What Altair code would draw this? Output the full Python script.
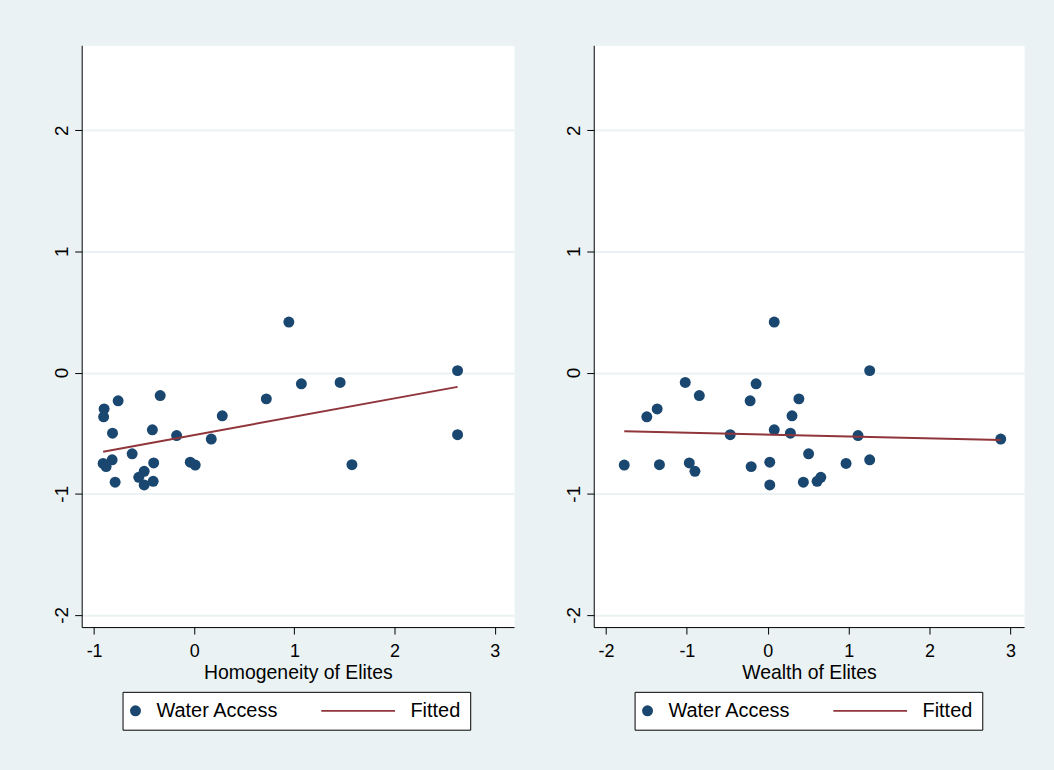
import altair as alt
import pandas as pd

# ---- data ----
water_access = [0.417, -0.093, -0.082, -0.30, -0.365, -0.233, -0.19, -0.50, -0.472, -0.52,
                -0.513, -0.357, -0.549, -0.217, -0.67, -0.72, -0.75, -0.776, -0.746, -0.74,
                -0.763, -0.76, -0.815, -0.864, -0.905, -0.927, -0.897, 0.016]
homogeneity = [0.945, 1.07, 1.457, -0.90, -0.905, -0.76, -0.34, -0.816, -0.418, -0.176,
               2.63, 0.28, 0.17, 0.72, -0.62, -0.82, -0.91, -0.88, -0.405, -0.04,
               0.01, 1.575, -0.50, -0.554, -0.79, -0.50, -0.41, 2.63]
wealth = [0.08, -0.144, -1.02, -1.367, -1.495, -0.218, -0.846, 0.28, 0.08, 1.116,
          -0.464, 0.30, 2.88, 0.385, 0.505, 1.26, 0.968, -0.205, -0.97, 0.025,
          -1.774, -1.339, -0.90, 0.656, 0.44, 0.025, 0.61, 1.26]
fit_homog_x = [-0.91, 2.63]
fit_homog_y = [-0.653, -0.118]
fit_wealth_x = [-1.774, 2.88]
fit_wealth_y = [-0.485, -0.556]

series_names = ["Water Access", "Fitted"]
x_ticks_left = [-1, 0, 1, 2, 3]
x_ticks_right = [-2, -1, 0, 1, 2, 3]
y_ticks = [-2, -1, 0, 1, 2]

NAVY = "#1A476F"
MAROON = "#90353B"
BG = "#EAF2F3"
FONT = "Liberation Sans"
LINE_SYMBOL = "M-12.45,-0.16L1,-0.16L1,0.16L-12.45,0.16Z"
NEG = "datum.value < 0 ? '-' + abs(datum.value) : '' + datum.value"


def panel(xvals, fx, fy, xtitle, xdomain, xticks, width):
    pts = pd.DataFrame({"x": xvals, "y": water_access, "series": "Water Access"})
    fit = pd.DataFrame({"x": fx, "y": fy})
    xscale = alt.Scale(domain=xdomain, nice=False, zero=False)
    yscale = alt.Scale(domain=[-2.1, 2.7], nice=False, zero=False)
    xaxis = alt.Axis(values=xticks, title=xtitle, labelExpr=NEG, grid=False,
                     labelFontSize=18, labelPadding=9, titlePadding=3, labelFlush=False)
    yaxis = alt.Axis(values=y_ticks, title=None, grid=True, labelExpr=NEG,
                     labelAngle=270, labelAlign="center", labelBaseline="alphabetic",
                     labelFontSize=19, labelPadding=7, minExtent=30, maxExtent=30)
    legend = alt.Legend(title=None, orient="none", legendX=41, legendY=649,
                        direction="horizontal", columns=2)
    points = alt.Chart(pts).mark_point(filled=True, size=121, opacity=1).encode(
        x=alt.X("x:Q", scale=xscale, axis=xaxis),
        y=alt.Y("y:Q", scale=yscale, axis=yaxis),
        color=alt.Color("series:N", scale=alt.Scale(domain=series_names, range=[NAVY, MAROON]),
                        legend=legend),
        shape=alt.Shape("series:N", scale=alt.Scale(domain=series_names, range=["circle", LINE_SYMBOL]),
                        legend=legend),
    )
    line = alt.Chart(fit).mark_line(color=MAROON, strokeWidth=2).encode(
        x=alt.X("x:Q", scale=xscale),
        y=alt.Y("y:Q", scale=yscale),
    )
    return alt.layer(points, line).properties(width=width, height=584)


left = panel(homogeneity, fit_homog_x, fit_homog_y, "Homogeneity of Elites",
             [-1.124, 3.194], x_ticks_left, 434)
right = panel(wealth, fit_wealth_x, fit_wealth_y, "Wealth of Elites",
              [-2.151, 3.169], x_ticks_right, 432)

chart = (
    alt.hconcat(left, right, spacing=48)
    .resolve_scale(color="independent", shape="independent", x="independent", y="independent")
    .resolve_legend(color="independent", shape="independent")
    .properties(padding={"left": 51, "top": 43, "right": 29, "bottom": 41}, background=BG)
    .configure_view(fill="white", stroke="transparent")
    .configure_axis(
        domainColor="black", domainWidth=1, tickColor="black", tickWidth=1, tickSize=7,
        labelFont=FONT, labelFontSize=17, labelColor="black",
        titleFont=FONT, titleFontSize=19.5, titleColor="black", titleFontWeight="normal",
        gridColor=BG, gridWidth=2,
    )
    .configure_legend(
        strokeColor="black", fillColor="white", padding=9, cornerRadius=0,
        labelFont=FONT, labelFontSize=20, labelColor="black", labelOffset=11,
        symbolOffset=-6, columnPadding=42, symbolSize=121, symbolStrokeWidth=0,
    )
)

chart.save("out.html", embed_options={"renderer": "svg", "actions": False})
